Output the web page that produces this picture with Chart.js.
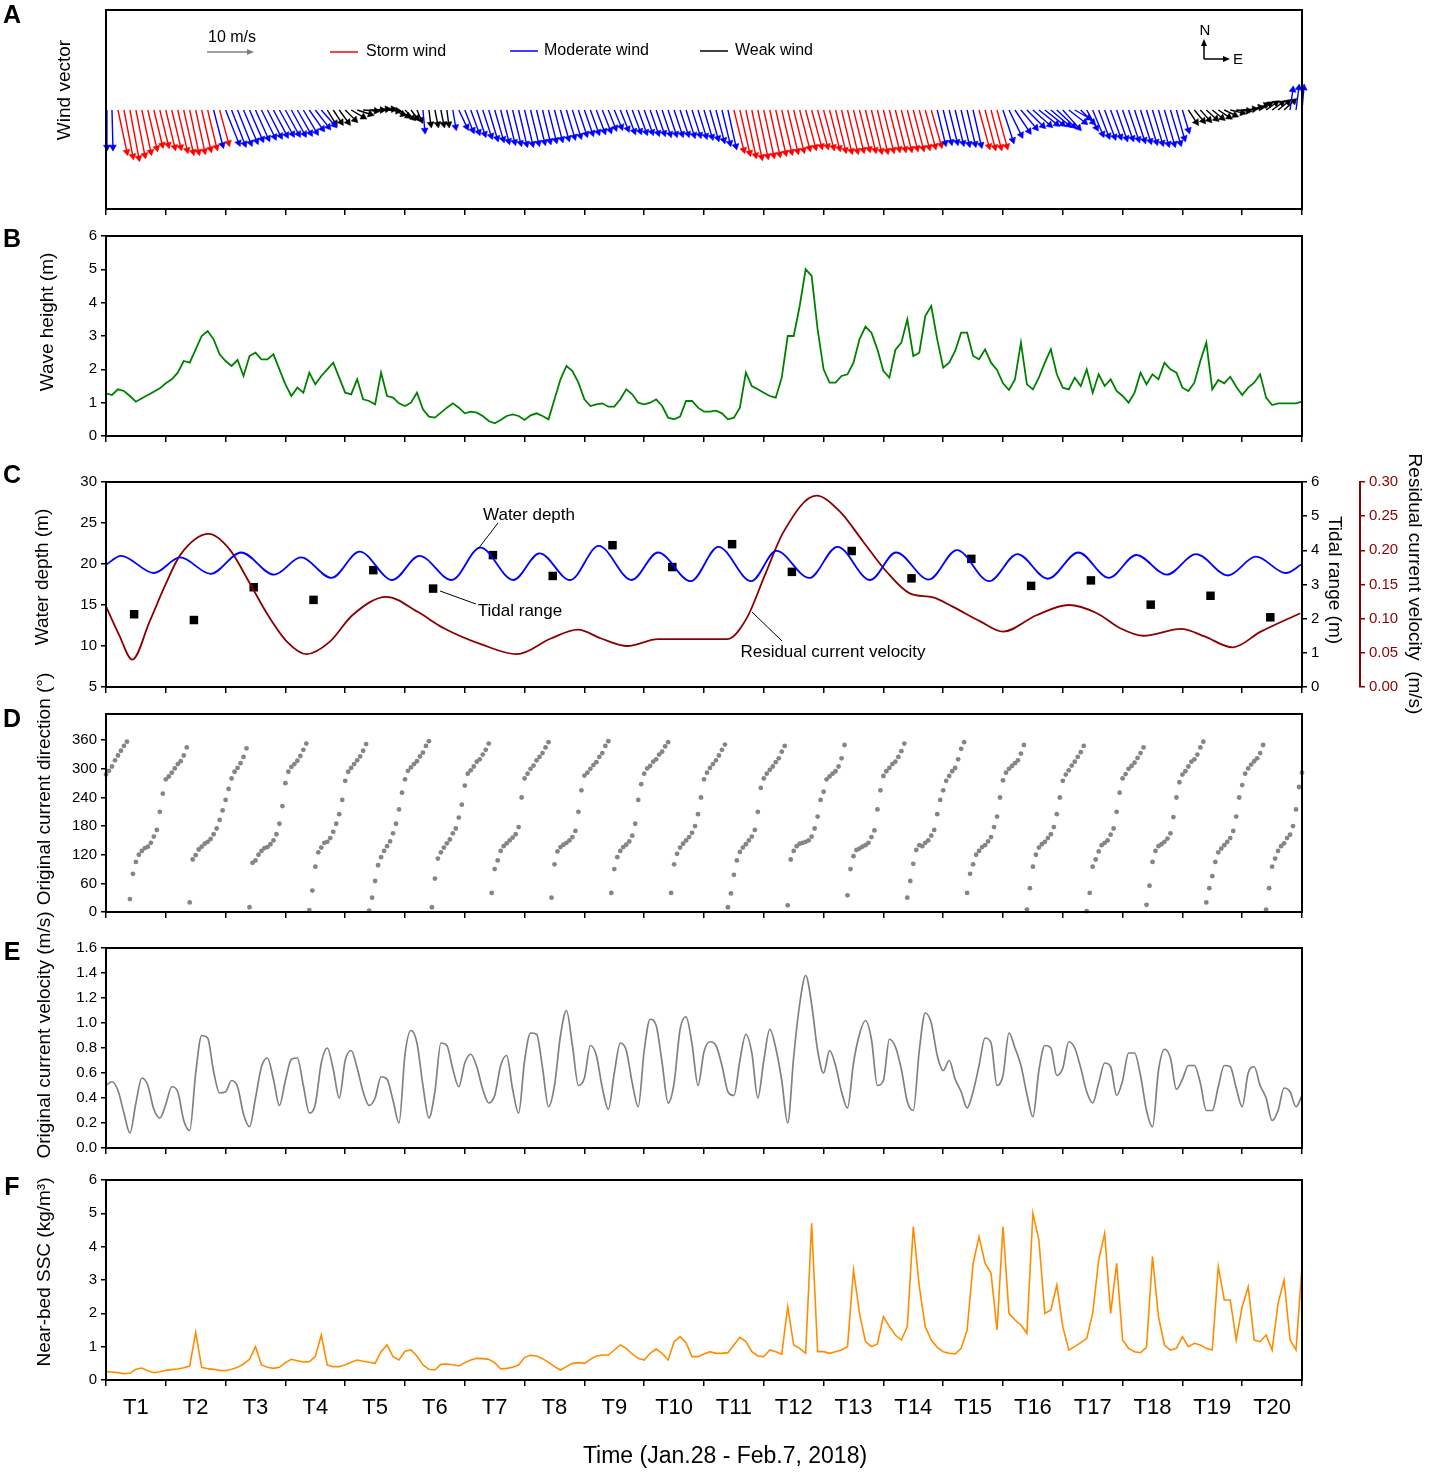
<!DOCTYPE html>
<html>
<head>
<meta charset="utf-8">
<script src="https://cdn.jsdelivr.net/npm/chart.js@4.4.1/dist/chart.umd.min.js"></script>
<style>
  html, body { margin: 0; padding: 0; background: #fff; }
  #wrap { position: relative; width: 1429px; height: 1475px; }
  #wrap canvas { position: absolute; left: 0; top: 0; }
</style>
</head>
<body>
<div id="wrap">
  <canvas id="cA" width="1429" height="1475"></canvas>
  <canvas id="cB" width="1429" height="1475"></canvas>
  <canvas id="cC" width="1429" height="1475"></canvas>
  <canvas id="cD" width="1429" height="1475"></canvas>
  <canvas id="cE" width="1429" height="1475"></canvas>
  <canvas id="cF" width="1429" height="1475"></canvas>
</div>
<script>
// x is time in tidal cycles (T1..T20), 0 = start of T1, 20 = end of T20
const cycleLabels = ['T1','T2','T3','T4','T5','T6','T7','T8','T9','T10',
  'T11','T12','T13','T14','T15','T16','T17','T18','T19','T20'];

// A: wind vectors, one every 0.1 cycle (m/s, east and north components)
const windU = [
  0.2,0.2,1.9,1.9,1.9,1.9,1.9,1.9,1.8,1.8,
  1.9,1.9,2.0,2.0,1.9,1.9,1.9,1.9,1.9,1.9,
  2.8,2.8,2.8,2.8,2.7,2.7,2.8,2.8,2.8,2.8,
  2.8,2.8,2.8,2.8,2.8,2.8,2.8,1.7,1.7,1.9,
  2.1,2.6,2.8,2.8,2.8,2.6,2.6,2.3,2.1,1.9,
  1.7,1.3,0.9,0.4,0.4,0.6,0.6,0.4,0.6,1.7,
  1.7,1.7,1.7,1.8,1.8,1.8,1.7,1.7,1.7,1.7,
  1.7,1.7,1.7,1.6,1.6,1.6,1.7,1.7,1.7,1.7,
  1.7,1.7,1.7,1.7,1.5,1.5,1.6,1.7,1.7,1.7,
  1.7,1.7,1.7,1.7,1.7,1.7,1.7,1.7,1.7,1.7,
  1.7,1.7,1.7,1.7,1.7,2.1,2.1,2.1,2.1,2.1,
  2.1,2.1,2.1,2.1,2.1,2.1,2.1,2.1,2.1,2.1,
  2.1,2.1,2.1,2.1,2.1,2.1,2.1,2.1,2.1,2.1,
  2.1,2.1,2.1,2.1,2.1,2.1,2.1,2.1,2.1,1.7,
  1.7,1.7,1.7,1.7,1.7,1.7,2.1,2.1,2.1,2.1,
  2.1,2.6,3.0,3.2,3.4,3.6,3.8,3.8,3.8,3.6,
  3.4,3.4,3.0,2.6,2.1,2.1,2.1,2.1,2.1,2.1,
  2.1,2.1,2.1,2.1,2.1,2.1,2.1,2.1,2.1,1.7,
  1.3,1.7,1.9,1.9,2.1,2.1,2.3,2.3,2.6,2.6,
  2.6,2.6,2.6,2.1,2.1,2.1,2.1,2.1,0.6,0.6,
  0.4
];
const windV = [
  -7.9,-7.9,-8.9,-9.8,-10.2,-9.6,-8.9,-8.1,-7.4,-7.4,
  -7.9,-7.9,-8.5,-8.9,-8.9,-8.7,-8.3,-7.9,-7.4,-7.0,
  -7.0,-7.2,-7.0,-6.6,-6.2,-6.0,-5.7,-5.5,-5.3,-5.1,
  -5.1,-5.1,-4.9,-4.7,-4.0,-3.6,-3.2,-2.8,-2.6,-2.6,
  -2.1,-1.5,-0.9,-0.2,0,0.2,0.2,-0.2,-0.9,-1.3,
  -1.7,-1.7,-2.1,-4.3,-3.0,-3.0,-3.0,-3.0,-3.6,-3.6,
  -4.3,-4.7,-5.1,-5.5,-6.0,-6.2,-6.6,-6.8,-7.0,-7.2,
  -7.2,-7.0,-6.8,-6.6,-6.4,-6.2,-6.0,-5.7,-5.5,-5.1,
  -4.9,-4.7,-4.5,-4.3,-3.8,-3.6,-4.0,-4.5,-4.5,-4.7,
  -4.7,-4.9,-4.9,-5.1,-5.1,-5.1,-5.1,-5.3,-5.3,-5.5,
  -5.7,-6.0,-6.4,-7.0,-7.7,-8.5,-9.1,-9.6,-10.0,-9.8,
  -9.6,-9.4,-9.1,-8.9,-8.7,-8.5,-8.1,-7.9,-7.7,-7.7,
  -7.9,-8.1,-8.5,-8.7,-8.7,-8.5,-8.3,-8.5,-8.7,-8.7,
  -8.5,-8.3,-8.3,-8.3,-8.1,-8.1,-7.9,-7.7,-7.4,-7.0,
  -6.8,-6.8,-7.0,-7.2,-7.2,-7.4,-7.7,-7.9,-7.9,-7.7,
  -6.4,-5.3,-4.5,-3.8,-3.4,-3.2,-3.0,-3.0,-3.2,-3.4,
  -3.8,-2.6,-1.7,-2.6,-3.8,-5.1,-5.5,-5.7,-5.7,-6.0,
  -6.0,-6.2,-6.4,-6.6,-6.8,-7.0,-7.2,-7.2,-7.0,-6.0,
  -4.3,-2.6,-2.3,-2.1,-1.9,-1.7,-1.5,-1.1,-0.6,-0.2,
  0.2,0.6,1.1,1.3,1.5,1.5,1.7,1.9,4.3,4.7,
  4.7
];
// wind class of consecutive vectors: S storm, M moderate, W weak
const windClassRuns = [['M',2],['S',16],['M',1],['S',1],['M',17],['W',16],['M',1],['W',4],
  ['M',47],['S',34],['M',7],['S',4],['M',31],['W',17],['M',3]];

// B: wave height (m), every 0.1 cycle
const waveHeight = [
  1.28,1.23,1.40,1.35,1.20,1.03,1.13,1.23,1.33,1.43,
  1.58,1.70,1.90,2.25,2.20,2.60,3.00,3.15,2.90,2.45,
  2.25,2.10,2.28,1.80,2.40,2.50,2.30,2.30,2.45,2.00,
  1.55,1.20,1.45,1.30,1.90,1.55,1.80,2.00,2.20,1.75,
  1.30,1.25,1.70,1.10,1.05,0.95,1.90,1.20,1.15,0.98,
  0.90,1.00,1.30,0.80,0.58,0.55,0.70,0.85,0.98,0.85,
  0.68,0.73,0.70,0.60,0.45,0.38,0.48,0.60,0.65,0.60,
  0.48,0.62,0.68,0.60,0.50,1.10,1.70,2.10,1.95,1.60,
  1.10,0.90,0.95,0.98,0.88,0.88,1.10,1.40,1.25,1.00,
  0.95,1.00,1.10,0.90,0.55,0.50,0.58,1.05,1.05,0.85,
  0.73,0.73,0.76,0.68,0.50,0.55,0.85,1.90,1.50,1.40,
  1.30,1.20,1.15,1.75,3.00,3.00,3.90,5.00,4.80,3.20,
  2.00,1.60,1.60,1.80,1.85,2.20,2.90,3.28,3.10,2.60,
  1.95,1.75,2.58,2.80,3.50,2.40,2.50,3.60,3.90,2.90,
  2.05,2.20,2.55,3.10,3.10,2.40,2.30,2.60,2.20,1.98,
  1.58,1.38,1.70,2.80,1.55,1.40,1.75,2.20,2.60,1.85,
  1.45,1.40,1.75,1.50,2.00,1.30,1.85,1.50,1.70,1.35,
  1.20,1.00,1.30,1.90,1.55,1.85,1.70,2.20,2.00,1.90,
  1.45,1.35,1.60,2.25,2.80,1.40,1.68,1.58,1.78,1.48,
  1.23,1.45,1.60,1.85,1.15,0.93,0.98,0.98,0.98,0.98,
  1.03
];

// C: water depth turning points (time in cycles, depth in m)
const depthTime = [0,0.25,0.80,1.24,1.75,2.26,2.81,3.26,3.77,4.24,4.79,5.24,5.78,6.26,6.81,
  7.25,7.76,8.24,8.79,9.23,9.78,10.24,10.79,11.21,11.76,12.23,12.78,13.21,13.76,14.23,
  14.77,15.24,15.75,16.26,16.77,17.23,17.74,18.23,18.76,19.23,19.73,20.0];
const depthValue = [19.9,21.0,18.9,20.8,18.8,21.4,18.7,20.8,18.3,21.5,18.05,21.0,18.05,22.0,18.05,
  21.3,18.05,22.2,18.05,21.4,17.9,22.1,17.9,21.6,18.3,22.1,18.05,21.4,18.1,21.7,
  17.9,21.2,18.2,21.4,18.3,21.1,18.7,21.2,18.6,20.9,18.9,20.0];
// C: tidal range of each cycle (m)
const tidalRange = [2.13,1.96,2.92,2.55,3.42,2.88,3.86,3.25,4.15,3.51,
  4.18,3.37,3.98,3.18,3.75,2.96,3.12,2.41,2.67,2.04];
// C: residual current velocity (m/s)
const residualTime = [0,0.22,0.44,0.73,0.99,1.24,1.72,2.07,2.39,2.71,3.03,3.35,3.74,4.12,4.69,
  5.21,5.65,6.29,6.87,7.44,7.89,8.28,8.72,9.23,9.75,10.39,10.71,11.02,11.33,11.88,
  12.27,12.66,13.05,13.44,13.83,14.15,14.62,15.0,15.56,16.1,16.57,16.96,17.35,17.98,18.37,
  18.84,19.31,19.97];
const residualValue = [0.118,0.076,0.040,0.096,0.149,0.193,0.224,0.201,0.154,0.105,0.066,0.048,0.066,0.105,0.132,
  0.110,0.086,0.062,0.048,0.071,0.084,0.071,0.060,0.070,0.070,0.070,0.100,0.164,0.227,0.280,
  0.257,0.213,0.169,0.137,0.131,0.118,0.096,0.081,0.105,0.120,0.108,0.086,0.075,0.085,0.074,
  0.058,0.081,0.108];

// D: original current direction (deg), every 0.05 cycle
const currentDir = [
  288,296,305,318,328,338,348,357,
  27,80,105,120,128,134,137,145,158,172,210,248,278,284,292,301,310,316,328,345,
  20,110,119,131,137,143,147,153,163,175,193,213,235,258,280,294,302,312,325,343,
  10,103,108,120,128,134,136,142,150,163,185,222,270,294,304,310,317,327,340,353,
  4,45,95,125,135,145,147,155,168,185,205,235,275,294,302,310,318,326,338,352,
  3,30,65,98,115,128,138,148,165,185,215,250,278,296,303,310,316,326,334,348,358,
  10,70,112,125,135,144,152,165,175,198,225,265,290,297,305,315,320,330,340,353,
  40,90,108,128,138,144,150,156,163,178,240,280,290,300,307,318,325,333,345,356,
  30,100,127,136,141,145,150,157,170,210,255,286,292,300,308,314,325,333,348,358,
  40,90,115,128,136,141,148,160,185,235,268,290,301,306,315,320,330,336,347,356,
  40,100,122,135,143,150,157,166,180,205,240,278,292,302,310,318,328,340,351,
  10,39,78,108,126,135,142,150,158,172,210,260,280,290,298,305,314,322,336,348,
  14,110,128,138,143,145,147,150,158,175,200,235,252,278,284,290,295,305,322,350,
  35,90,117,130,133,137,140,145,157,171,215,255,285,295,302,310,315,325,337,353,
  30,65,101,130,140,138,145,150,160,172,205,235,255,275,285,295,302,320,342,356,
  40,80,100,120,128,136,140,148,157,178,200,240,276,292,300,306,312,318,332,350,
  5,50,95,120,135,142,147,155,163,178,205,240,275,288,297,307,315,325,335,348,
  2,40,95,110,127,140,145,150,162,175,210,250,280,289,300,306,313,323,333,345,
  15,55,105,128,138,142,147,154,165,199,240,272,288,295,305,315,320,330,345,357,
  20,50,75,105,125,133,140,147,155,170,200,240,266,290,301,309,316,322,333,350,
  5,50,95,112,128,138,144,155,162,180,215,262,292
];
const dirTicks = [0,60,120,180,240,300,360];

// E: original current velocity (m/s), every 0.1 cycle
const currentVel = [
  0.50,0.53,0.46,0.28,0.12,0.36,0.56,0.50,0.31,0.24,
  0.35,0.49,0.45,0.22,0.14,0.60,0.90,0.88,0.61,0.44,
  0.45,0.54,0.49,0.27,0.17,0.40,0.65,0.72,0.55,0.34,
  0.54,0.71,0.72,0.50,0.28,0.35,0.68,0.80,0.63,0.40,
  0.70,0.78,0.64,0.45,0.34,0.40,0.57,0.55,0.38,0.20,
  0.75,0.94,0.84,0.50,0.24,0.45,0.84,0.82,0.63,0.49,
  0.68,0.75,0.65,0.47,0.36,0.42,0.66,0.74,0.47,0.28,
  0.70,0.92,0.91,0.64,0.33,0.50,0.90,1.10,0.82,0.50,
  0.56,0.82,0.74,0.48,0.31,0.60,0.84,0.78,0.52,0.33,
  0.78,1.03,0.98,0.68,0.36,0.52,0.95,1.05,0.83,0.50,
  0.77,0.85,0.82,0.66,0.45,0.42,0.70,0.91,0.76,0.40,
  0.70,0.95,0.80,0.54,0.20,0.73,1.15,1.38,1.15,0.78,
  0.60,0.78,0.66,0.45,0.32,0.68,0.91,1.02,0.87,0.50,
  0.54,0.87,0.81,0.63,0.37,0.30,0.78,1.08,1.00,0.74,
  0.62,0.70,0.55,0.45,0.32,0.45,0.66,0.88,0.84,0.50,
  0.58,0.92,0.80,0.66,0.43,0.25,0.62,0.82,0.80,0.58,
  0.64,0.85,0.80,0.64,0.45,0.36,0.52,0.68,0.65,0.42,
  0.54,0.76,0.76,0.58,0.30,0.17,0.62,0.79,0.72,0.47,
  0.55,0.66,0.66,0.52,0.30,0.30,0.49,0.66,0.65,0.48,
  0.33,0.60,0.65,0.50,0.40,0.22,0.30,0.48,0.45,0.33,
  0.42
];

// F: near-bed SSC (kg/m3), every 0.1 cycle
const ssc = [
  0.25,0.24,0.22,0.19,0.20,0.32,0.36,0.28,0.22,0.25,
  0.29,0.31,0.33,0.37,0.42,1.43,0.38,0.34,0.32,0.29,
  0.28,0.32,0.38,0.48,0.62,1.00,0.45,0.38,0.35,0.38,
  0.52,0.62,0.58,0.54,0.55,0.70,1.35,0.45,0.40,0.40,
  0.46,0.53,0.60,0.56,0.53,0.50,0.85,1.05,0.70,0.60,
  0.86,0.90,0.72,0.45,0.32,0.30,0.47,0.48,0.46,0.42,
  0.52,0.60,0.65,0.64,0.62,0.52,0.33,0.35,0.38,0.45,
  0.68,0.74,0.72,0.64,0.53,0.40,0.30,0.40,0.50,0.52,
  0.50,0.62,0.72,0.75,0.75,0.90,1.05,0.95,0.78,0.65,
  0.60,0.80,0.93,0.80,0.60,1.15,1.30,1.12,0.70,0.70,
  0.78,0.85,0.80,0.80,0.82,1.05,1.28,1.15,0.85,0.72,
  0.70,0.90,0.85,0.77,2.20,1.05,0.95,0.80,4.70,0.85,
  0.85,0.80,0.85,0.90,1.00,3.30,2.00,1.15,1.00,1.08,
  1.90,1.60,1.35,1.20,1.60,4.60,2.80,1.60,1.20,0.98,
  0.85,0.80,0.78,0.95,1.50,3.50,4.30,3.50,3.20,1.50,
  4.60,2.00,1.80,1.65,1.40,5.00,4.20,2.00,2.10,2.85,
  1.60,0.90,1.00,1.12,1.25,2.00,3.60,4.40,2.00,3.50,
  1.20,0.95,0.85,0.82,0.98,3.70,1.90,1.05,0.90,0.95,
  1.30,1.00,1.10,1.05,0.95,0.90,3.40,2.40,2.40,1.20,
  2.20,2.80,1.20,1.15,1.35,0.90,2.30,3.00,1.20,0.90,
  3.40
];

// ---------- layout / style ----------
const FONT = "'Liberation Sans', Arial, Helvetica, sans-serif";
const PAGE_W = 1429, PAGE_H = 1475;
const PLOT_LEFT = 106, PLOT_RIGHT = 1302;
const CYCLE_PX = (PLOT_RIGHT - PLOT_LEFT) / 20;
const WIND_PX = 4.7;              // px per m/s, same as the 10 m/s key
const RED = '#8b0000';

const windClass = [];
windClassRuns.forEach(([c, n]) => { for (let k = 0; k < n; k++) windClass.push(c); });

function series(values, step) {
  return values.map((v, i) => ({ x: i * step, y: v }));
}
function pairs(xs, ys) {
  return xs.map((x, i) => ({ x: x, y: ys[i] }));
}
function windSegments(cls) {
  const pts = [];
  windU.forEach((u, i) => {
    if (windClass[i] !== cls) return;
    const v = windV[i], x0 = i * 0.1;
    pts.push({ x: x0, y: 0 });
    pts.push({ x: x0 + u * WIND_PX / CYCLE_PX, y: v, tip: true, rot: Math.atan2(u, v) * 180 / Math.PI });
    pts.push({ x: x0, y: null });
  });
  return pts;
}

function text(c, str, x, y, size, o = {}) {
  c.save();
  c.translate(x, y);
  if (o.rot) c.rotate(o.rot * Math.PI / 180);
  c.font = (o.bold ? 'bold ' : '') + size + 'px ' + FONT;
  c.fillStyle = o.color || '#000';
  c.textAlign = o.align || 'center';
  c.textBaseline = 'middle';
  c.fillText(str, 0, 0);
  c.restore();
}
function line(c, x1, y1, x2, y2, color, w) {
  c.strokeStyle = color; c.lineWidth = w;
  c.beginPath(); c.moveTo(x1, y1); c.lineTo(x2, y2); c.stroke();
}
function arrowLine(c, x1, y1, x2, y2, color, w) {
  const a = Math.atan2(y2 - y1, x2 - x1), h = 7, s = 3;
  line(c, x1, y1, x2 - h * 0.8 * Math.cos(a), y2 - h * 0.8 * Math.sin(a), color, w);
  c.fillStyle = color;
  c.beginPath();
  c.moveTo(x2, y2);
  c.lineTo(x2 - h * Math.cos(a) + s * Math.sin(a), y2 - h * Math.sin(a) - s * Math.cos(a));
  c.lineTo(x2 - h * Math.cos(a) - s * Math.sin(a), y2 - h * Math.sin(a) + s * Math.cos(a));
  c.closePath(); c.fill();
}
function frame(c, chart) {
  const a = chart.chartArea;
  c.strokeStyle = '#000'; c.lineWidth = 2;
  c.strokeRect(a.left, a.top, a.right - a.left, a.bottom - a.top);
}
function letter(c, s, y) { text(c, s, 12, y, 25, { bold: true }); }
function yTitle(c, s, x, y) { text(c, s, x, y, 19, { rot: -90 }); }

function xAxis(showLabels, h) {
  return {
    type: 'linear', min: 0, max: 20,
    ticks: {
      display: showLabels, stepSize: 1, autoSkip: false, maxRotation: 0, minRotation: 0,
      labelOffset: CYCLE_PX / 2, padding: 9, color: '#000',
      font: { family: FONT, size: 22 },
      callback: v => cycleLabels[v] || ''
    },
    grid: { drawOnChartArea: false, drawTicks: true, tickLength: 6, color: '#000', lineWidth: 1.5 },
    border: { display: true, color: '#000', width: 2 },
    afterFit: s => { s.height = h; }
  };
}
function yLeft(min, max, step, fmt, extra) {
  return Object.assign({
    type: 'linear', position: 'left', min: min, max: max,
    ticks: { stepSize: step, color: '#000', font: { family: FONT, size: 15 }, padding: 4, callback: fmt },
    grid: { drawOnChartArea: false, tickLength: 5, color: '#000', lineWidth: 1.5 },
    border: { color: '#000', width: 2 },
    afterFit: s => { s.width = PLOT_LEFT; }
  }, extra || {});
}

function makeChart(id, cfg) {
  const xH = cfg.xLabels ? 40 : 8;
  const rightPad = cfg.rightPad !== undefined ? cfg.rightPad : PAGE_W - PLOT_RIGHT;
  return new Chart(document.getElementById(id), {
    type: 'scatter',
    data: { datasets: cfg.datasets },
    options: {
      responsive: false, animation: false, devicePixelRatio: 1, events: [],
      layout: { padding: { top: cfg.top, bottom: PAGE_H - cfg.bottom - xH, left: 0, right: rightPad } },
      plugins: { legend: { display: false }, tooltip: { enabled: false } },
      scales: Object.assign({ x: xAxis(!!cfg.xLabels, xH) }, cfg.scales)
    },
    plugins: [{
      id: 'decor_' + id,
      afterDraw(chart) {
        const c = chart.ctx;
        c.save();
        frame(c, chart);
        cfg.decorate(c, chart);
        c.restore();
      }
    }]
  });
}

// ---------- A: wind vectors ----------
const windColors = { S: '#ff0000', M: '#0000ff', W: '#000000' };
makeChart('cA', {
  top: 10, bottom: 209,
  scales: {
    y: {
      type: 'linear', min: -(209 - 110) / WIND_PX, max: (110 - 10) / WIND_PX,
      ticks: { display: false }, grid: { display: false },
      border: { color: '#000', width: 2 },
      afterFit: s => { s.width = PLOT_LEFT; }
    }
  },
  datasets: ['M', 'S', 'W'].map(cls => ({
    data: windSegments(cls), showLine: true, spanGaps: false, clip: 8,
    borderColor: windColors[cls], backgroundColor: windColors[cls], borderWidth: 1.4,
    pointStyle: 'triangle', pointBorderWidth: 0.5, pointBorderColor: windColors[cls],
    pointBackgroundColor: windColors[cls],
    pointRadius: ctx => (ctx.raw && ctx.raw.tip ? 4 : 0),
    pointRotation: ctx => (ctx.raw && ctx.raw.rot) || 0
  })),
  decorate: c => {
    letter(c, 'A', 16);
    yTitle(c, 'Wind vector', 65, 90);
    text(c, '10 m/s', 232, 38, 16);
    arrowLine(c, 207, 52, 254, 52, '#808080', 1.5);
    line(c, 330, 52, 358, 52, '#ff0000', 1.5);
    text(c, 'Storm wind', 366, 52, 16, { align: 'left' });
    line(c, 510, 51, 538, 51, '#0000ff', 1.5);
    text(c, 'Moderate wind', 544, 51, 16, { align: 'left' });
    line(c, 700, 51, 728, 51, '#000', 1.5);
    text(c, 'Weak wind', 735, 51, 16, { align: 'left' });
    arrowLine(c, 1204, 59, 1204, 39, '#000', 1.5);
    arrowLine(c, 1204, 59, 1230, 59, '#000', 1.5);
    text(c, 'N', 1205, 31, 15);
    text(c, 'E', 1238, 60, 15);
  }
});

// ---------- B: wave height ----------
makeChart('cB', {
  top: 236, bottom: 436,
  scales: { y: yLeft(0, 6, 1, v => v) },
  datasets: [{
    data: series(waveHeight, 0.1), showLine: true, borderColor: '#008000',
    borderWidth: 1.8, pointRadius: 0, tension: 0
  }],
  decorate: c => {
    letter(c, 'B', 240);
    yTitle(c, 'Wave height (m)', 48, 322);
  }
});

// ---------- C: water depth, tidal range, residual current ----------
makeChart('cC', {
  top: 482, bottom: 687, rightPad: 0,
  scales: {
    y: yLeft(5, 30, 5, v => v),
    yT: {
      type: 'linear', position: 'right', weight: 0, min: 0, max: 6,
      ticks: { stepSize: 1, color: '#000', font: { family: FONT, size: 15 }, padding: 4 },
      grid: { drawOnChartArea: false, tickLength: 5, color: '#000', lineWidth: 1.5 },
      border: { color: '#000', width: 2 },
      afterFit: s => { s.width = 58; }
    },
    yR: {
      type: 'linear', position: 'right', weight: 1, min: 0, max: 0.3,
      ticks: { stepSize: 0.05, color: RED, font: { family: FONT, size: 15 }, padding: 4, callback: v => v.toFixed(2) },
      grid: { drawOnChartArea: false, tickLength: 5, color: RED, lineWidth: 1.5 },
      border: { color: RED, width: 2 },
      afterFit: s => { s.width = PAGE_W - PLOT_RIGHT - 58; }
    }
  },
  datasets: [
    { data: pairs(depthTime, depthValue), yAxisID: 'y', showLine: true, borderColor: '#0000ff',
      borderWidth: 1.8, pointRadius: 0, cubicInterpolationMode: 'monotone' },
    { data: pairs(residualTime, residualValue), yAxisID: 'yR', showLine: true, borderColor: RED,
      borderWidth: 1.8, pointRadius: 0, cubicInterpolationMode: 'monotone' },
    { data: tidalRange.map((v, i) => ({ x: i + 0.47, y: v })), yAxisID: 'yT', showLine: false,
      pointStyle: 'rect', pointRadius: 6, pointBackgroundColor: '#000', pointBorderWidth: 0 }
  ],
  decorate: c => {
    letter(c, 'C', 476);
    yTitle(c, 'Water depth (m)', 43, 577);
    text(c, 'Tidal range (m)', 1334, 580, 19, { rot: 90 });
    text(c, 'Residual current velocity  (m/s)', 1414, 584, 19, { rot: 90 });
    text(c, 'Water depth', 529, 515, 17);
    line(c, 498, 523, 478, 549, '#000', 1);
    text(c, 'Tidal range', 520, 611, 17);
    line(c, 440, 591, 476, 604, '#000', 1);
    text(c, 'Residual current velocity', 833, 652, 17);
    line(c, 752, 612, 782, 641, '#000', 1);
  }
});

// ---------- D: current direction ----------
makeChart('cD', {
  top: 714, bottom: 912,
  scales: {
    y: yLeft(0, 415, 60, v => v, {
      afterBuildTicks: s => { s.ticks = dirTicks.map(v => ({ value: v })); }
    })
  },
  datasets: [{
    data: series(currentDir, 0.05), showLine: false, clip: 4,
    pointRadius: 2.4, pointBackgroundColor: '#858585', pointBorderWidth: 0
  }],
  decorate: c => {
    letter(c, 'D', 720);
    yTitle(c, 'Original current direction (°)', 45, 789);
  }
});

// ---------- E: current velocity ----------
makeChart('cE', {
  top: 948, bottom: 1148,
  scales: { y: yLeft(0, 1.6, 0.2, v => v.toFixed(1)) },
  datasets: [{
    data: series(currentVel, 0.1), showLine: true, borderColor: '#808080',
    borderWidth: 1.7, pointRadius: 0, cubicInterpolationMode: 'monotone'
  }],
  decorate: c => {
    letter(c, 'E', 953);
    yTitle(c, 'Original current velocity (m/s)', 45, 1035);
  }
});

// ---------- F: near-bed SSC ----------
makeChart('cF', {
  top: 1180, bottom: 1380, xLabels: true,
  scales: { y: yLeft(0, 6, 1, v => v) },
  datasets: [{
    data: series(ssc, 0.1), showLine: true, borderColor: '#ff8c00',
    borderWidth: 1.6, pointRadius: 0, tension: 0
  }],
  decorate: c => {
    letter(c, 'F', 1188);
    yTitle(c, 'Near-bed SSC (kg/m³)', 45, 1272);
    text(c, 'Time (Jan.28 - Feb.7, 2018)', 725, 1457, 23);
  }
});
</script>
</body>
</html>
